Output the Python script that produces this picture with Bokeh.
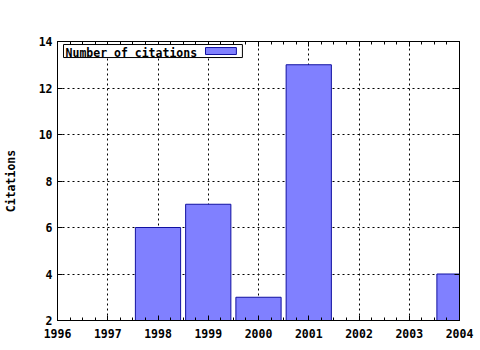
from bokeh.plotting import figure
from bokeh.models import LinearAxis, Range1d, FixedTicker, BoxAnnotation, Label, Grid
from bokeh.embed import file_html
from bokeh.resources import INLINE

years = [1998, 1999, 2000, 2001, 2004]
citations = [6, 7, 3, 13, 4]
x_ticks = list(range(1996, 2005))
y_ticks = [2, 4, 6, 8, 10, 12, 14]
series_name = "Number of citations"
y_label = "Citations"

FONT = "DejaVu Sans Mono"
FS = "11.5px"
FILL = "#8080ff"
EDGE = "#1010a0"

minor = [1996 + i * 0.25 for i in range(33) if i % 4 != 0]

p = figure(width=480, height=350, output_backend="svg", toolbar_location=None,
           x_range=Range1d(1996, 2004), y_range=Range1d(2, 14),
           min_border_left=57, min_border_right=21, min_border_top=41, min_border_bottom=30,
           x_axis_type=None, y_axis_type=None)
p.background_fill_color = "white"
p.border_fill_color = "white"
p.outline_line_color = "black"
p.outline_line_width = 1

p.vbar(x=years, top=citations, bottom=2, width=0.9, fill_color=FILL, line_color=EDGE, line_width=1)

def mk_axis(ticker, labels=True):
    ax = LinearAxis(ticker=ticker)
    ax.axis_line_color = "black"
    ax.major_tick_in = 5
    ax.major_tick_out = 0
    ax.minor_tick_in = 3
    ax.minor_tick_out = 0
    ax.major_tick_line_color = "black"
    ax.minor_tick_line_color = "black"
    ax.major_label_text_font = FONT
    ax.major_label_text_font_style = "bold"
    ax.major_label_text_font_size = FS
    ax.major_label_text_color = "black"
    ax.axis_label_text_font = FONT
    ax.axis_label_text_font_style = "bold"
    ax.axis_label_text_font_size = FS
    ax.axis_label_text_color = "black"
    if not labels:
        ax.major_label_overrides = {t: "" for t in ticker.ticks}
        ax.major_label_standoff = 0
    return ax

xt = FixedTicker(ticks=x_ticks, minor_ticks=minor)
yt = FixedTicker(ticks=y_ticks, minor_ticks=[])

xb = mk_axis(xt)
xb.major_label_standoff = 8
p.add_layout(xb, "below")
xa = mk_axis(FixedTicker(ticks=x_ticks, minor_ticks=minor), labels=False)
p.add_layout(xa, "above")

yl = mk_axis(yt)
yl.major_label_standoff = 5
yl.axis_label = y_label
yl.axis_label_standoff = 18
p.add_layout(yl, "left")
yr = mk_axis(FixedTicker(ticks=y_ticks, minor_ticks=[]), labels=False)
p.add_layout(yr, "right")

for dim, tk in ((0, xt), (1, yt)):
    g = Grid(dimension=dim, ticker=tk, grid_line_color="black",
             grid_line_dash="2 3", grid_line_width=1, level="underlay")
    p.add_layout(g, "center")

# key box (gnuplot style: text then sample)
p.add_layout(BoxAnnotation(left=1996.12, right=1999.68, top=13.87, bottom=13.31,
                           fill_color="white", fill_alpha=1, line_color="black",
                           line_width=1, line_alpha=1))
p.add_layout(Label(x=1996.16, y=13.5, text=series_name, text_font=FONT,
                   text_font_style="bold", text_font_size=FS, text_color="black",
                   text_baseline="alphabetic"))
p.add_layout(BoxAnnotation(left=1998.945, right=1999.56, top=13.74, bottom=13.44,
                           fill_color=FILL, fill_alpha=1, line_color=EDGE,
                           line_width=1, line_alpha=1))

open("out.html", "w").write(file_html(p, INLINE))
